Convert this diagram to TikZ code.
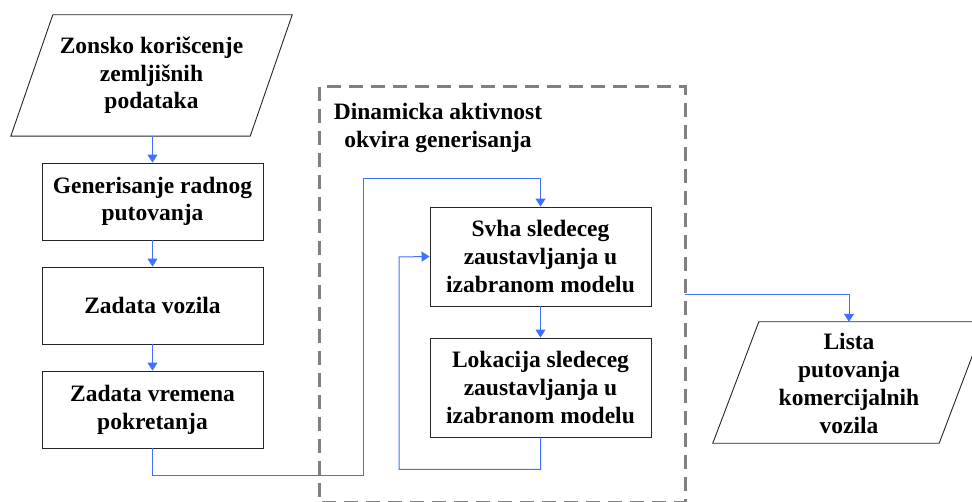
\documentclass[tikz,border=0pt]{standalone}
\usepackage{fontspec}
\setmainfont{Liberation Serif}[BoldFont={Liberation Serif Bold}]
\usetikzlibrary{arrows.meta,calc}
\definecolor{flowblue}{RGB}{64,112,255}
\definecolor{framegrey}{RGB}{128,128,128}
\tikzset{
  label text/.style={font=\fontsize{23.5}{27.7}\selectfont\bfseries, align=center, inner sep=0pt},
  procbox/.style={draw=black!85, line width=0.9pt, rectangle, minimum width=221pt, label text},
  iobody/.style={rectangle, minimum height=121pt, label text},
  ioshape/.style={draw=black!85, line width=0.9pt},
  flow/.style={draw=flowblue, line width=1pt, -{Triangle[length=8pt,width=10pt]}},
  flowline/.style={draw=flowblue, line width=1pt},
  groupframe/.style={draw=framegrey, line width=3pt, dash pattern=on 14pt off 8pt},
}
\begin{document}
\begin{tikzpicture}[x=1pt,y=-1pt]
\useasboundingbox (0,0) rectangle (972,502);
\clip (0,0) rectangle (972,502);

% input: land-use data
\node[iobody, minimum width=239pt] (zonsko) at (151.5,75.5) {Zonsko korišcenje\\zemljišnih\\podataka};
\draw[ioshape] ($(zonsko.north west)+(21,0)$) -- ($(zonsko.north east)+(21,0)$)
  -- ($(zonsko.south east)+(-21,0)$) -- ($(zonsko.south west)+(-21,0)$) -- cycle;

% left column of steps
\node[procbox, minimum height=77pt] (gen) at (152.5,201.5) {Generisanje radnog\\putovanja};
\node[procbox, minimum height=77pt] (vozila) at (152.5,305.5) {Zadata vozila};
\node[procbox, minimum height=77pt] (vreme) at (152.5,409.5) {Zadata vremena\\pokretanja};

% dynamic activity frame
\node[draw=none, minimum width=365pt, minimum height=415pt, inner sep=0pt] (frame) at (502.5,294.5) {};
\draw[groupframe] (frame.north west) rectangle (frame.south east);
\node[label text] (frametitle) at (438,128) {Dinamicka aktivnost\\okvira generisanja};

\node[procbox, minimum height=99pt] (svha) at (540.5,256.5) {Svha sledeceg\\zaustavljanja u\\izabranom modelu};
\node[procbox, minimum height=99pt] (lok) at (540.5,387.5) {Lokacija sledeceg\\zaustavljanja u\\izabranom modelu};

% output: commercial vehicle trip list
\node[iobody, minimum width=226pt] (lista) at (849,383.5) {Lista\\putovanja\\komercijalnih\\vozila};
\draw[ioshape] ($(lista.north west)+(23,-1)$) -- ($(lista.north east)+(23,-1)$)
  -- ($(lista.south east)+(-23,-1)$) -- ($(lista.south west)+(-23,-1)$) -- cycle;

% connectors
\coordinate (zbottom) at (zonsko.south -| gen.north);
\draw[flow] (zbottom) -- (gen.north);
\draw[flow] (gen.south) -- (vozila.north);
\draw[flow] (vozila.south) -- (vreme.north);
\draw[flow] (vreme.south) -- ++(0,27) -| (363,179) -| (svha.north);
\draw[flow] (svha.south) -- (lok.north);
\draw[flow] (lok.south) -- ++(0,32) -| (399,257) -- (svha.west);
\coordinate (frameout) at (frame.east |- 0,295);
\draw[flow] (frameout) -| ($(lista.north)+(0,-1)$);
\end{tikzpicture}
\end{document}
